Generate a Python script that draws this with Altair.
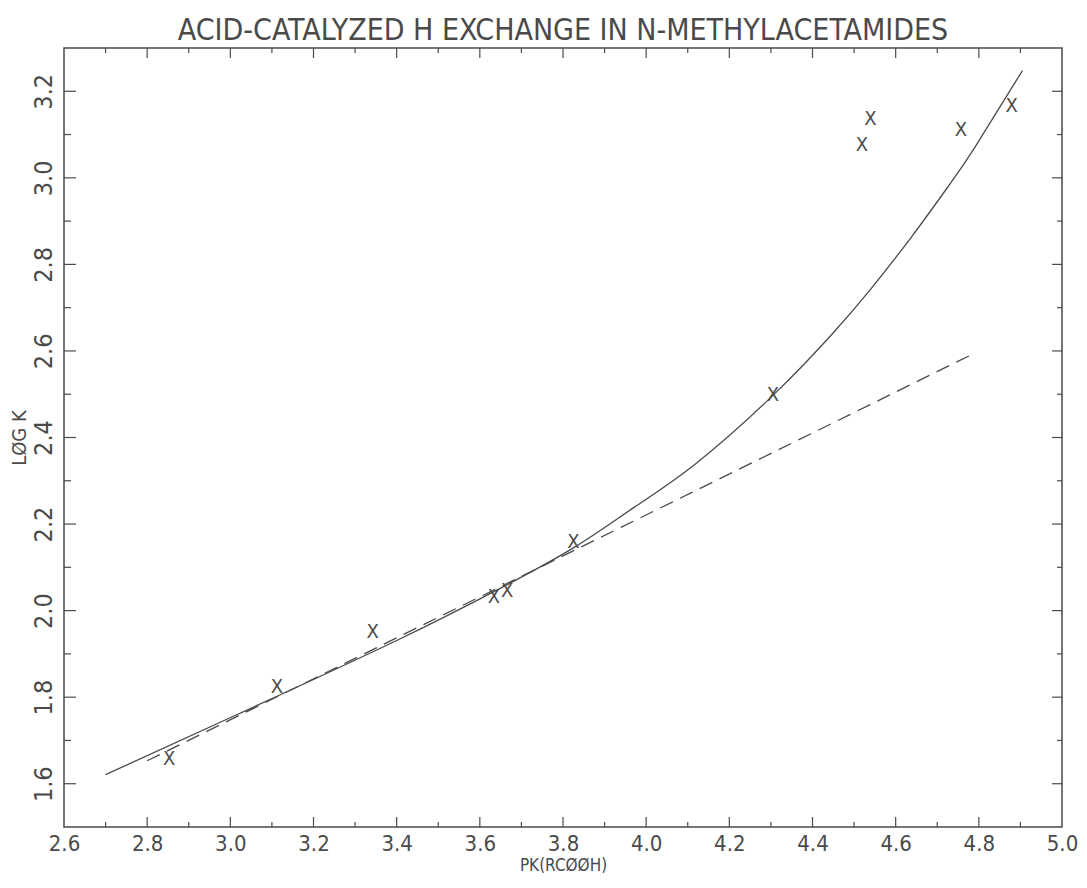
import altair as alt
import pandas as pd

# ---- data ----
pk_obs = [2.853, 3.112, 3.342, 3.634, 3.666, 3.825, 4.305, 4.519, 4.539, 4.757, 4.879]
logk_obs = [1.657, 1.824, 1.951, 2.031, 2.046, 2.158, 2.499, 3.075, 3.135, 3.110, 3.165]

fit_pk = [2.70, 3.01, 3.40, 3.65, 3.825, 3.97, 4.12, 4.31, 4.45, 4.54, 4.64, 4.73, 4.79, 4.905]
fit_logk = [1.621, 1.757, 1.931, 2.052, 2.145, 2.238, 2.340, 2.502, 2.642, 2.743, 2.866, 2.985, 3.070, 3.248]

lin_pk = [2.80, 4.79]
lin_logk = [1.653, 2.595]

x_label_values = [2.6, 2.8, 3.0, 3.2, 3.4, 3.6, 3.8, 4.0, 4.2, 4.4, 4.6, 4.8, 5.0]
y_label_values = [1.6, 1.8, 2.0, 2.2, 2.4, 2.6, 2.8, 3.0, 3.2]
x_major_ticks = [2.8, 3.0, 3.2, 3.4, 3.6, 3.8, 4.0, 4.2, 4.4, 4.6, 4.8]
x_minor_ticks = [2.7, 2.9, 3.1, 3.3, 3.5, 3.7, 3.9, 4.1, 4.3, 4.5, 4.7, 4.9]
y_major_ticks = [1.6, 1.8, 2.0, 2.2, 2.4, 2.6, 2.8, 3.0, 3.2]
y_minor_ticks = [1.7, 1.9, 2.1, 2.3, 2.5, 2.7, 2.9, 3.1]

# ---- style ----
W, H = 998, 779
FONT = "Liberation Sans Narrow, DejaVu Sans Condensed, sans-serif"
INK = "#4a4a4a"

xsc = alt.Scale(domain=[2.6, 5.0], nice=False, zero=False)
ysc = alt.Scale(domain=[1.5, 3.3], nice=False, zero=False)

obs = pd.DataFrame({"pk": pk_obs, "logk": logk_obs})
fit = pd.DataFrame({"pk": fit_pk, "logk": fit_logk})
lin = pd.DataFrame({"pk": lin_pk, "logk": lin_logk})

x_axis = alt.Axis(values=x_label_values, format=".1f", ticks=False, tickSize=0, domain=False,
                  grid=False, labelFont=FONT, labelFontSize=22, labelColor=INK, labelPadding=6,
                  labelFlush=False, labelOverlap=False,
                  title="PK(RCØØH)", titleFont=FONT, titleFontSize=17, titleFontWeight="normal",
                  titleColor=INK, titlePadding=3)
y_axis = alt.Axis(values=y_label_values, format=".1f", ticks=False, tickSize=0, domain=False,
                  grid=False, labelFont=FONT, labelFontSize=25, labelColor=INK, labelPadding=8,
                  labelAngle=-90, labelAlign="center", labelBaseline="bottom",
                  labelFlush=False, labelOverlap=False,
                  title="LØG K", titleFont=FONT, titleFontSize=20, titleFontWeight="normal",
                  titleColor=INK, titlePadding=2)

X = alt.X("pk:Q", scale=xsc, axis=x_axis)
Y = alt.Y("logk:Q", scale=ysc, axis=y_axis)

points = alt.Chart(obs).mark_text(text="X", font=FONT, fontSize=20, color=INK,
                                  align="center", baseline="middle").encode(x=X, y=Y)

fit_line = alt.Chart(fit).mark_line(color=INK, strokeWidth=1.3, interpolate="natural").encode(x=X, y=Y)

lin_line = alt.Chart(lin).mark_line(color=INK, strokeWidth=1.3, strokeDash=[14, 8]).encode(x=X, y=Y)


def xticks(values, y0, y1):
    return alt.Chart(pd.DataFrame({"pk": values})).mark_rule(color=INK, strokeWidth=1.2).encode(
        x=X, y=alt.value(y0), y2=alt.value(y1))


def yticks(values, x0, x1):
    return alt.Chart(pd.DataFrame({"logk": values})).mark_rule(color=INK, strokeWidth=1.2).encode(
        y=Y, x=alt.value(x0), x2=alt.value(x1))


tick_layers = [
    xticks(x_major_ticks, H, H - 10), xticks(x_minor_ticks, H, H - 5),
    xticks(x_major_ticks, 0, 10), xticks(x_minor_ticks, 0, 5),
    yticks(y_major_ticks, 0, 12), yticks(y_minor_ticks, 0, 7),
    yticks(y_major_ticks, W, W - 10), yticks(y_minor_ticks, W, W - 5),
]

chart = alt.layer(points, fit_line, lin_line, *tick_layers).properties(
    width=W, height=H,
    title=alt.Title("ACID-CATALYZED H EXCHANGE IN N-METHYLACETAMIDES", font=FONT, fontSize=30,
                    fontWeight="normal", color=INK, offset=1, anchor="middle"),
    autosize="none",
    padding={"left": 56, "top": 40, "right": 17, "bottom": 50},
).configure(background="white").configure_view(stroke=INK, strokeWidth=1.5)

chart.save("out.html", embed_options={"renderer": "svg", "actions": False})
